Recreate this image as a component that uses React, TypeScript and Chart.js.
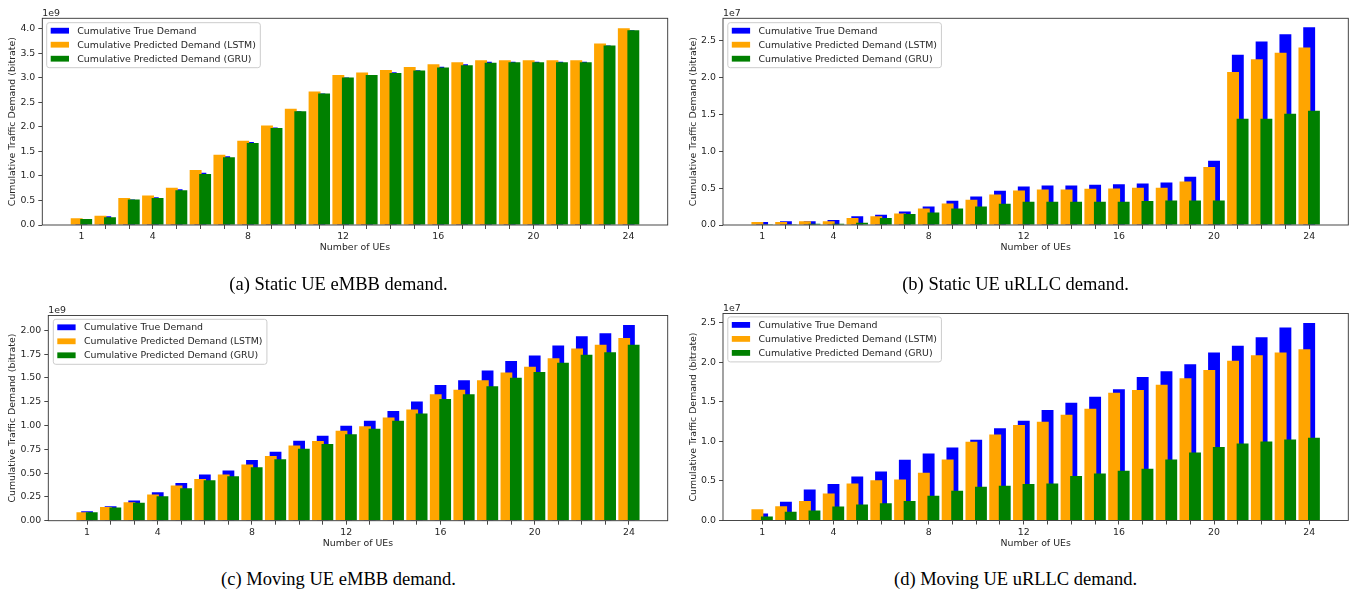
import { useEffect, useRef } from "react";
import { Chart, registerables } from "chart.js";

Chart.register(...registerables);

// ---------- data ----------
const ueCounts = [1, 2, 3, 4, 5, 6, 7, 8, 9, 10, 11, 12, 13, 14, 15, 16, 17, 18, 19, 20, 21, 22, 23, 24];
const labeledTicks = [1, 4, 8, 12, 16, 20, 24];
const seriesNames = [
  "Cumulative True Demand",
  "Cumulative Predicted Demand (LSTM)",
  "Cumulative Predicted Demand (GRU)",
];
const seriesColors = ["#0000ff", "#ffa500", "#008000"];
const seriesOffsets = [0, -0.2, 0.2];

// (a) Static UE eMBB demand, in units of 1e9
const staticEmbbTrue = [0.12, 0.18, 0.52, 0.565, 0.73, 1.065, 1.4, 1.69, 1.99, 2.32, 2.68, 3.01, 3.06, 3.115, 3.155, 3.225, 3.28, 3.33, 3.33, 3.33, 3.33, 3.33, 3.66, 3.97];
const staticEmbbLstm = [0.14, 0.19, 0.55, 0.6, 0.76, 1.12, 1.43, 1.72, 2.03, 2.37, 2.72, 3.06, 3.11, 3.16, 3.22, 3.28, 3.32, 3.36, 3.36, 3.36, 3.36, 3.36, 3.7, 4.01];
const staticEmbbGru = [0.12, 0.16, 0.52, 0.55, 0.71, 1.04, 1.38, 1.67, 1.98, 2.32, 2.68, 3.01, 3.06, 3.1, 3.15, 3.21, 3.26, 3.31, 3.32, 3.32, 3.32, 3.32, 3.66, 3.97];

// (b) Static UE uRLLC demand, in units of 1e7
const staticUrllcTrue = [0.04, 0.05, 0.05, 0.067, 0.117, 0.14, 0.184, 0.252, 0.328, 0.387, 0.463, 0.52, 0.535, 0.535, 0.544, 0.553, 0.562, 0.576, 0.652, 0.872, 2.307, 2.487, 2.585, 2.68];
const staticUrllcLstm = [0.04, 0.04, 0.05, 0.05, 0.094, 0.117, 0.157, 0.225, 0.292, 0.342, 0.414, 0.468, 0.481, 0.481, 0.49, 0.495, 0.504, 0.504, 0.589, 0.787, 2.073, 2.244, 2.334, 2.405];
const staticUrllcGru = [0.005, 0.005, 0.018, 0.018, 0.03, 0.094, 0.148, 0.171, 0.225, 0.252, 0.288, 0.315, 0.315, 0.315, 0.315, 0.315, 0.324, 0.333, 0.333, 0.333, 1.439, 1.439, 1.506, 1.547];

// (c) Moving UE eMBB demand, in units of 1e9
const movingEmbbTrue = [0.098, 0.153, 0.213, 0.3, 0.397, 0.484, 0.526, 0.638, 0.725, 0.84, 0.892, 0.997, 1.049, 1.153, 1.251, 1.425, 1.474, 1.578, 1.676, 1.735, 1.84, 1.937, 1.969, 2.056];
const movingEmbbLstm = [0.09, 0.143, 0.195, 0.275, 0.369, 0.439, 0.484, 0.589, 0.679, 0.791, 0.836, 0.944, 0.993, 1.084, 1.167, 1.328, 1.376, 1.474, 1.557, 1.617, 1.707, 1.808, 1.847, 1.92];
const movingEmbbGru = [0.09, 0.139, 0.188, 0.258, 0.341, 0.425, 0.467, 0.561, 0.645, 0.756, 0.805, 0.909, 0.965, 1.049, 1.125, 1.279, 1.328, 1.411, 1.502, 1.561, 1.659, 1.742, 1.77, 1.847];

// (d) Moving UE uRLLC demand, in units of 1e7
const movingUrllcTrue = [0.089, 0.236, 0.392, 0.46, 0.556, 0.62, 0.767, 0.847, 0.923, 1.02, 1.164, 1.26, 1.395, 1.488, 1.564, 1.657, 1.813, 1.884, 1.973, 2.121, 2.209, 2.314, 2.437, 2.495];
const movingUrllcLstm = [0.143, 0.181, 0.245, 0.341, 0.468, 0.51, 0.519, 0.603, 0.772, 0.995, 1.088, 1.206, 1.248, 1.336, 1.412, 1.615, 1.648, 1.716, 1.796, 1.901, 2.019, 2.087, 2.121, 2.163];
const movingUrllcGru = [0.051, 0.11, 0.126, 0.177, 0.202, 0.219, 0.245, 0.312, 0.375, 0.426, 0.438, 0.46, 0.468, 0.561, 0.594, 0.628, 0.653, 0.772, 0.86, 0.927, 0.974, 0.999, 1.024, 1.046];

const yTicksA = [0, 0.5, 1.0, 1.5, 2.0, 2.5, 3.0, 3.5, 4.0];
const yTicksB = [0, 0.5, 1.0, 1.5, 2.0, 2.5];
const yTicksC = [0, 0.25, 0.5, 0.75, 1.0, 1.25, 1.5, 1.75, 2.0];
const yTicksD = [0, 0.5, 1.0, 1.5, 2.0, 2.5];

const captions = [
  "(a) Static UE eMBB demand.",
  "(b) Static UE uRLLC demand.",
  "(c) Moving UE eMBB demand.",
  "(d) Moving UE uRLLC demand.",
];

// ---------- layout ----------
const FONT = "'DejaVu Sans', sans-serif";
const FS = 9.4;
const TEXT = "#262626";
const AXIS = "#333333";

type PanelSpec = {
  series: number[][];
  yTicks: number[];
  yMax: number;
  decimals: number;
  exponent: string;
  canvasLeft: number;
  canvasTop: number;
  canvasW: number;
  canvasH: number;
  plotLeft: number;
  plotRight: number;
  plotTop: number;
  plotBottom: number;
  yTitleX: number;
  xTitleY: number;
  legendDx: number;
  legendDy: number;
};

const panels: PanelSpec[] = [
  {
    series: [staticEmbbTrue, staticEmbbLstm, staticEmbbGru],
    yTicks: yTicksA, yMax: 4.215, decimals: 1, exponent: "1e9",
    canvasLeft: 0, canvasTop: 0, canvasW: 677, canvasH: 258,
    plotLeft: 42.3, plotRight: 667.7, plotTop: 18.3, plotBottom: 225,
    yTitleX: 12.5, xTitleY: 248, legendDx: 4.4, legendDy: 4.4,
  },
  {
    series: [staticUrllcTrue, staticUrllcLstm, staticUrllcGru],
    yTicks: yTicksB, yMax: 2.8, decimals: 1, exponent: "1e7",
    canvasLeft: 677, canvasTop: 0, canvasW: 677, canvasH: 258,
    plotLeft: 723, plotRight: 1348.3, plotTop: 18.3, plotBottom: 225,
    yTitleX: 694, xTitleY: 248, legendDx: 4.8, legendDy: 4.4,
  },
  {
    series: [movingEmbbTrue, movingEmbbLstm, movingEmbbGru],
    yTicks: yTicksC, yMax: 2.155, decimals: 2, exponent: "1e9",
    canvasLeft: 0, canvasTop: 295, canvasW: 677, canvasH: 258,
    plotLeft: 48.3, plotRight: 667.7, plotTop: 315.5, plotBottom: 520.7,
    yTitleX: 12.5, xTitleY: 544, legendDx: 5, legendDy: 3.8,
  },
  {
    series: [movingUrllcTrue, movingUrllcLstm, movingUrllcGru],
    yTicks: yTicksD, yMax: 2.615, decimals: 1, exponent: "1e7",
    canvasLeft: 677, canvasTop: 295, canvasW: 677, canvasH: 258,
    plotLeft: 723, plotRight: 1348.3, plotTop: 313.5, plotBottom: 520.5,
    yTitleX: 694, xTitleY: 544, legendDx: 4.8, legendDy: 3.4,
  },
];

function Panel({ spec }: { spec: PanelSpec }) {
  const ref = useRef<HTMLCanvasElement | null>(null);

  useEffect(() => {
    const canvas = ref.current;
    if (!canvas) return;
    const s = spec;
    const lh = FS * 1.2;

    const framePlugin = {
      id: "frameLegend",
      afterDraw(chart: any) {
        const { ctx, chartArea: a } = chart;
        ctx.save();
        ctx.strokeStyle = AXIS;
        ctx.lineWidth = 0.9;
        ctx.strokeRect(a.left, a.top, a.right - a.left, a.bottom - a.top);

        ctx.font = `${FS}px ${FONT}`;
        ctx.fillStyle = TEXT;
        ctx.textAlign = "left";
        ctx.textBaseline = "alphabetic";
        ctx.fillText(s.exponent, a.left, a.top - 2.5);

        // legend
        const lx = a.left + s.legendDx;
        const ly = a.top + s.legendDy;
        const textX = lx + 30.6;
        let maxW = 0;
        seriesNames.forEach((n) => {
          maxW = Math.max(maxW, ctx.measureText(n).width);
        });
        const w = textX + maxW + 4.5 - lx;
        const h = 45;
        const r = 2.5;
        ctx.beginPath();
        ctx.moveTo(lx + r, ly);
        ctx.lineTo(lx + w - r, ly);
        ctx.quadraticCurveTo(lx + w, ly, lx + w, ly + r);
        ctx.lineTo(lx + w, ly + h - r);
        ctx.quadraticCurveTo(lx + w, ly + h, lx + w - r, ly + h);
        ctx.lineTo(lx + r, ly + h);
        ctx.quadraticCurveTo(lx, ly + h, lx, ly + h - r);
        ctx.lineTo(lx, ly + r);
        ctx.quadraticCurveTo(lx, ly, lx + r, ly);
        ctx.closePath();
        ctx.fillStyle = "rgba(255,255,255,0.8)";
        ctx.fill();
        ctx.strokeStyle = "#cccccc";
        ctx.lineWidth = 1;
        ctx.stroke();

        ctx.textBaseline = "middle";
        seriesNames.forEach((n, k) => {
          const cy = ly + 8 + k * 14;
          ctx.fillStyle = seriesColors[k];
          ctx.fillRect(lx + 4, cy - 2.9, 18.3, 5.8);
          ctx.fillStyle = TEXT;
          ctx.fillText(n, textX, cy + 0.5);
        });
        ctx.restore();
      },
    };

    const yAxisWidth = s.plotLeft - s.canvasLeft;
    const xAxisHeight = s.canvasTop + s.canvasH - s.plotBottom;

    const chart = new Chart(canvas, {
      type: "bar",
      data: {
        datasets: s.series.map((vals, k) => ({
          label: seriesNames[k],
          data: vals.map((v, i) => ({ x: ueCounts[i] + seriesOffsets[k], y: v })),
          backgroundColor: seriesColors[k],
          borderWidth: 0,
          grouped: false,
          barPercentage: 2.5,
          categoryPercentage: 1,
          order: 3 - k,
        })),
      },
      options: {
        responsive: false,
        animation: false,
        devicePixelRatio: 1,
        layout: {
          padding: {
            left: 0,
            top: s.plotTop - s.canvasTop,
            right: s.canvasLeft + s.canvasW - s.plotRight,
            bottom: 0,
          },
        },
        plugins: {
          legend: { display: false },
          tooltip: { enabled: false },
        },
        scales: {
          x: {
            type: "linear",
            bounds: "data",
            offset: false,
            min: -0.645,
            max: 25.645,
            afterBuildTicks: (axis: any) => {
              axis.ticks = ueCounts.map((v) => ({ value: v }));
            },
            afterFit: (axis: any) => {
              axis.height = xAxisHeight;
            },
            ticks: {
              autoSkip: false,
              maxRotation: 0,
              minRotation: 0,
              includeBounds: false,
              padding: 2,
              color: TEXT,
              font: { family: FONT, size: FS },
              callback: (v: any) => (labeledTicks.includes(Number(v)) ? String(v) : ""),
            },
            grid: {
              display: true,
              offset: false,
              drawOnChartArea: false,
              drawTicks: true,
              tickLength: 4,
              color: AXIS,
              lineWidth: 0.9,
            },
            border: { display: false },
            title: {
              display: true,
              text: "Number of UEs",
              color: TEXT,
              font: { family: FONT, size: FS },
              padding: { top: 0, bottom: s.canvasTop + s.canvasH - s.xTitleY - lh / 2 },
            },
          },
          y: {
            type: "linear",
            bounds: "data",
            min: 0,
            max: s.yMax,
            afterBuildTicks: (axis: any) => {
              axis.ticks = s.yTicks.map((v) => ({ value: v }));
            },
            afterFit: (axis: any) => {
              axis.width = yAxisWidth;
            },
            ticks: {
              includeBounds: false,
              padding: 3,
              color: TEXT,
              font: { family: FONT, size: FS },
              callback: (v: any) => Number(v).toFixed(s.decimals),
            },
            grid: {
              display: true,
              drawOnChartArea: false,
              drawTicks: true,
              tickLength: 4,
              color: AXIS,
              lineWidth: 0.9,
            },
            border: { display: false },
            title: {
              display: true,
              text: "Cumulative Traffic Demand (bitrate)",
              color: TEXT,
              font: { family: FONT, size: FS },
              padding: { top: s.yTitleX - s.canvasLeft - lh / 2, bottom: 0 },
            },
          },
        },
      } as any,
      plugins: [framePlugin],
    });

    return () => chart.destroy();
  }, [spec]);

  return (
    <canvas
      ref={ref}
      width={spec.canvasW}
      height={spec.canvasH}
      style={{
        position: "absolute",
        left: spec.canvasLeft,
        top: spec.canvasTop,
        width: spec.canvasW,
        height: spec.canvasH,
      }}
    />
  );
}

const captionCenters = [
  { x: 338.5, y: 284 },
  { x: 1015.5, y: 284 },
  { x: 338.5, y: 579 },
  { x: 1015.5, y: 579 },
];

export default function App() {
  return (
    <div
      style={{
        position: "absolute",
        left: 0,
        top: 0,
        width: 1354,
        height: 595,
        background: "#ffffff",
        overflow: "hidden",
      }}
    >
      {panels.map((p, i) => (
        <Panel key={i} spec={p} />
      ))}
      {captions.map((c, i) => (
        <div
          key={"cap" + i}
          style={{
            position: "absolute",
            left: captionCenters[i].x - 300,
            top: captionCenters[i].y - 12,
            width: 600,
            height: 24,
            lineHeight: "24px",
            textAlign: "center",
            fontFamily: "'Liberation Serif', 'Times New Roman', serif",
            fontSize: 18.5,
            color: "#000",
            whiteSpace: "nowrap",
          }}
        >
          {c}
        </div>
      ))}
    </div>
  );
}
